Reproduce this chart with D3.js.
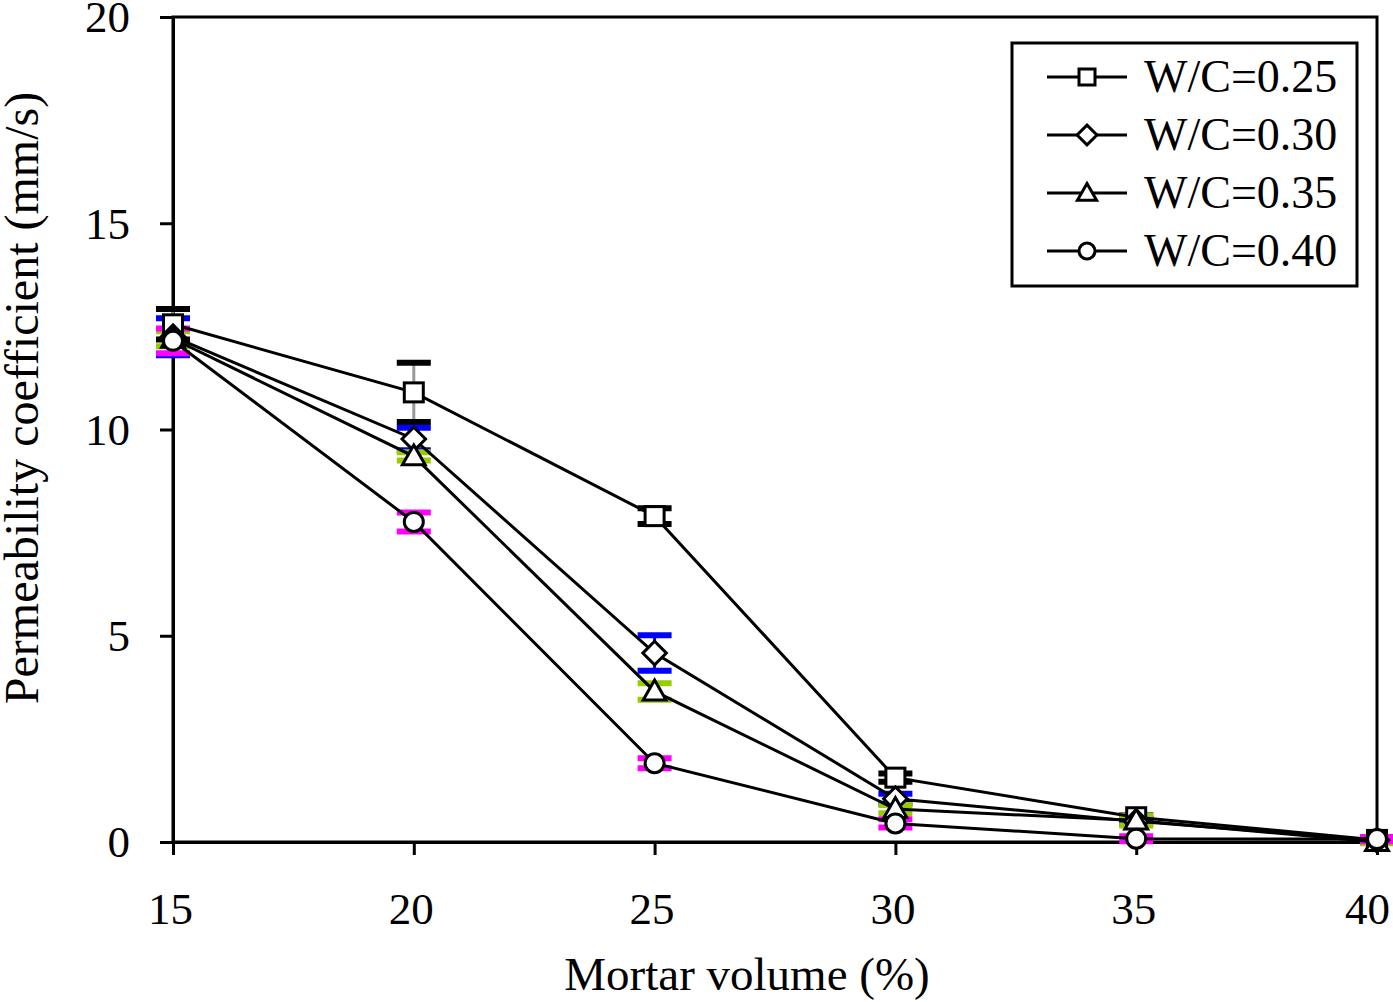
<!DOCTYPE html>
<html><head><meta charset="utf-8">
<script src="https://cdn.jsdelivr.net/npm/d3@7"></script>
<style>body{margin:0;background:#fff}svg{display:block}text{font-family:"Liberation Serif","Times New Roman",serif;fill:#000}</style>
</head><body><svg id="c" width="1393" height="1002"></svg>
<script>
const mortar = [15, 20, 25, 30, 35, 40];
const seriesNames = ["W/C=0.25", "W/C=0.30", "W/C=0.35", "W/C=0.40"];
const wc025 = [12.55, 10.9, 7.9, 1.56, 0.6, 0.05];
const wc030 = [12.25, 9.77, 4.58, 1.05, 0.5, 0.04];
const wc035 = [12.2, 9.35, 3.65, 0.8, 0.52, 0.0];
const wc040 = [12.15, 7.76, 1.91, 0.45, 0.08, 0.07];
const err025 = [0.37, 0.72, 0.19, 0.1, 0.05, 0.03];
const err030 = [0.45, 0.27, 0.43, 0.12, 0.05, 0.03];
const err035 = [0.18, 0.1, 0.2, 0.1, 0.12, 0.03];
const err040 = [0.3, 0.23, 0.12, 0.1, 0.06, 0.05];
const xTicks = [15, 20, 25, 30, 35, 40];
const yTicks = [0, 5, 10, 15, 20];
const markers = ["square", "diamond", "triangle", "circle"];
const errColors = ["#000000", "#0000ff", "#99cc00", "#ff00ff"];
const stemColors = ["#999999", "#0000ff", "#99cc00", "#ff00ff"];

const series = [wc025, wc030, wc035, wc040].map((v, i) => ({
  name: seriesNames[i], marker: markers[i], ec: errColors[i], sc: stemColors[i],
  pts: v.map((y, j) => ({x: mortar[j], y, e: [err025, err030, err035, err040][i][j]}))
}));

const svg = d3.select("#c");
const L = 173, R = 1377, T = 17, B = 842;
const x = d3.scaleLinear().domain([15, 40]).range([L, R]);
const y = d3.scaleLinear().domain([0, 20]).range([B, T]);

// frame
svg.append("rect").attr("x", L).attr("y", T).attr("width", R - L).attr("height", B - T)
  .attr("fill", "none").attr("stroke", "#000").attr("stroke-width", 3);

// axes
const xa = svg.append("g").attr("transform", `translate(0,${B})`)
  .call(d3.axisBottom(x).tickValues(xTicks).tickSize(13).tickPadding(37).tickFormat(d3.format("d")));
const ya = svg.append("g").attr("transform", `translate(${L},0)`)
  .call(d3.axisLeft(y).tickValues(yTicks).tickSize(13).tickPadding(30).tickFormat(d3.format("d")));
[xa, ya].forEach(a => {
  a.select(".domain").attr("stroke-width", 3);
  a.selectAll(".tick line").attr("stroke-width", 3);
  a.selectAll("text").attr("font-size", 45).attr("font-family", "Liberation Serif");
});
ya.selectAll("text").attr("dy", "0.33em");
xa.selectAll(".tick text").attr("dx", d => d === 40 ? -10 : -3);

// axis titles
svg.append("text").attr("x", 747).attr("y", 990).attr("text-anchor", "middle").attr("font-size", 47)
  .text("Mortar volume (%)");
svg.append("text").attr("transform", "translate(38,398) rotate(-90)").attr("text-anchor", "middle")
  .attr("font-size", 48).text("Permeability coefficient (mm/s)");

const plot = svg.append("g");
// error bars
series.forEach(s => {
  s.pts.forEach(p => {
    const g = plot.append("g");
    g.append("line").attr("x1", x(p.x)).attr("x2", x(p.x)).attr("y1", y(p.y + p.e)).attr("y2", y(p.y - p.e))
      .attr("stroke", s.sc).attr("stroke-width", 3);
    [p.y + p.e, p.y - p.e].forEach(v => {
      g.append("line").attr("x1", x(p.x) - 17).attr("x2", x(p.x) + 17).attr("y1", y(v)).attr("y2", y(v))
        .attr("stroke", s.ec).attr("stroke-width", 6);
    });
  });
});
// lines
const line = d3.line().x(d => x(d.x)).y(d => y(d.y));
series.forEach(s => {
  plot.append("path").datum(s.pts).attr("d", line).attr("fill", "none").attr("stroke", "#000").attr("stroke-width", 3);
});
function drawMarker(g, type, cx, cy, sz) {
  let el;
  if (type === "square") el = g.append("rect").attr("x", cx - sz / 2).attr("y", cy - sz / 2).attr("width", sz).attr("height", sz);
  else if (type === "circle") el = g.append("circle").attr("cx", cx).attr("cy", cy).attr("r", sz / 2);
  else if (type === "diamond") { const h = sz * 0.62; el = g.append("path").attr("d", `M${cx},${cy - h}L${cx + h},${cy}L${cx},${cy + h}L${cx - h},${cy}Z`); }
  else { const h = sz * 0.6; el = g.append("path").attr("d", `M${cx},${cy - h}L${cx + h},${cy + h * 0.75}L${cx - h},${cy + h * 0.75}Z`); }
  el.attr("fill", "#fff").attr("stroke", "#000").attr("stroke-width", 3);
}
series.forEach(s => {
  s.pts.forEach(p => drawMarker(plot, s.marker, x(p.x), y(p.y), 19));
});

// legend
const lg = svg.append("g");
lg.append("rect").attr("x", 1012).attr("y", 43).attr("width", 345).attr("height", 243)
  .attr("fill", "#fff").attr("stroke", "#000").attr("stroke-width", 3);
series.forEach((s, i) => {
  const cy = 77 + i * 58;
  lg.append("line").attr("x1", 1047).attr("x2", 1127).attr("y1", cy).attr("y2", cy).attr("stroke", "#000").attr("stroke-width", 3);
  drawMarker(lg, s.marker, 1087, cy, 16);
  lg.append("text").attr("x", 1144).attr("y", cy + 15).attr("font-size", 46).text(s.name);
});
</script></body></html>
